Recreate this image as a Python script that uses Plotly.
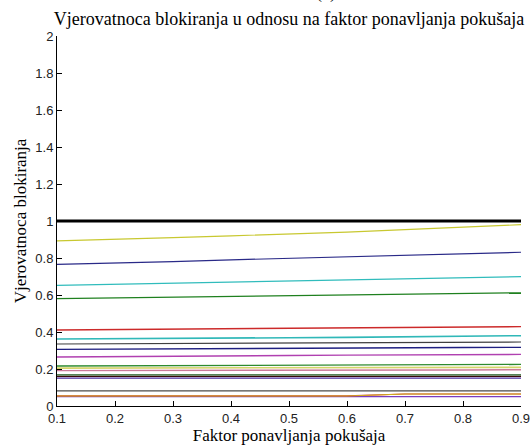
import plotly.graph_objects as go

# Retry factor (x axis)
faktor = [0.1, 0.2, 0.3, 0.4, 0.5, 0.6, 0.7, 0.8, 0.9]

# Blocking probability curves, one per configuration
s_crna = [1.0, 1.0, 1.0, 1.0, 1.0, 1.0, 1.0, 1.0, 1.0]
s_zuta1 = [0.893, 0.900, 0.910, 0.920, 0.928, 0.940, 0.953, 0.966, 0.980]
s_plava1 = [0.766, 0.772, 0.780, 0.790, 0.798, 0.806, 0.814, 0.822, 0.831]
s_cijan1 = [0.652, 0.658, 0.665, 0.670, 0.676, 0.682, 0.687, 0.693, 0.699]
s_zelena1 = [0.580, 0.584, 0.588, 0.592, 0.596, 0.600, 0.605, 0.608, 0.612]
s_crvena1 = [0.411, 0.413, 0.416, 0.420, 0.423, 0.424, 0.425, 0.427, 0.429]
s_cijan2 = [0.362, 0.363, 0.366, 0.368, 0.369, 0.371, 0.373, 0.376, 0.380]
s_siva1 = [0.335, 0.336, 0.337, 0.338, 0.339, 0.341, 0.343, 0.344, 0.346]
s_plava2 = [0.306, 0.308, 0.309, 0.311, 0.312, 0.313, 0.314, 0.316, 0.317]
s_magenta1 = [0.265, 0.266, 0.268, 0.270, 0.273, 0.275, 0.276, 0.277, 0.279]
s_zelena2 = [0.216, 0.217, 0.218, 0.219, 0.220, 0.221, 0.222, 0.224, 0.225]
s_zuta2 = [0.205, 0.205, 0.206, 0.206, 0.207, 0.207, 0.208, 0.208, 0.209]
s_roza = [0.191, 0.191, 0.192, 0.193, 0.193, 0.194, 0.195, 0.195, 0.196]
s_zelena3 = [0.168, 0.168, 0.168, 0.168, 0.168, 0.168, 0.168, 0.168, 0.168]
s_tamna = [0.160, 0.160, 0.160, 0.160, 0.160, 0.160, 0.160, 0.160, 0.160]
s_ljub1 = [0.151, 0.151, 0.151, 0.151, 0.151, 0.151, 0.151, 0.151, 0.151]
s_siva2 = [0.082, 0.082, 0.082, 0.082, 0.082, 0.082, 0.082, 0.082, 0.082]
s_ljub2 = [0.051, 0.051, 0.051, 0.051, 0.051, 0.051, 0.051, 0.051, 0.051]
s_crvena2 = [0.055, 0.055, 0.055, 0.055, 0.055, 0.055, 0.065, 0.065, 0.065]
s_zuta3 = [0.054, 0.054, 0.054, 0.054, 0.054, 0.054, 0.065, 0.065, 0.065]

serije = [
    (s_ljub2, "#7a3cc0", 1.2),
    (s_crvena2, "#d03030", 1.2),
    (s_zuta3, "#d0b020", 1.2),
    (s_siva2, "#4a4a4a", 1.2),
    (s_ljub1, "#4a2a9a", 1.2),
    (s_tamna, "#3a0a0a", 1.4),
    (s_zelena3, "#1f5a1f", 1.4),
    (s_roza, "#cc7a9a", 1.4),
    (s_zuta2, "#d4d46a", 1.6),
    (s_zelena2, "#2e8b2e", 1.4),
    (s_magenta1, "#b040b0", 1.4),
    (s_plava2, "#1f1f80", 1.4),
    (s_siva1, "#404040", 1.2),
    (s_cijan2, "#30b8b8", 1.6),
    (s_crvena1, "#cc2a2a", 1.4),
    (s_zelena1, "#1f801f", 1.2),
    (s_cijan1, "#30bcbc", 1.2),
    (s_plava1, "#2a2a88", 1.2),
    (s_zuta1, "#c8c830", 1.2),
    (s_crna, "#000000", 3.0),
]

fig = go.Figure()
for vals, boja, debljina in serije:
    fig.add_trace(go.Scatter(
        x=faktor, y=vals, mode="lines",
        line=dict(color=boja, width=debljina),
        showlegend=False, hoverinfo="skip",
    ))

serif = "Liberation Serif, Times New Roman, serif"
sans = "Liberation Sans, Arial, sans-serif"

fig.update_layout(
    width=531, height=445,
    margin=dict(l=57, r=10, t=36, b=39, autoexpand=False),
    paper_bgcolor="white", plot_bgcolor="white",
    title=dict(
        text="Vjerovatnoca blokiranja u odnosu na faktor ponavljanja pokušaja",
        font=dict(family=serif, size=18, color="#000000"),
        x=0.5, xref="paper", xanchor="center",
        y=1, yref="paper", yanchor="bottom", pad=dict(b=11),
        automargin=False,
    ),
    annotations=[dict(
        text="(c)", x=0.58, xref="paper", y=1, yref="paper",
        xanchor="center", yanchor="bottom", yshift=31, showarrow=False,
        font=dict(family=serif, size=18, color="#000000"),
    )],
)

fig.update_xaxes(
    range=[0.1, 0.9], tickvals=faktor,
    ticktext=["0.1", "0.2", "0.3", "0.4", "0.5", "0.6", "0.7", "0.8", "0.9"],
    ticks="inside", ticklen=5, tickcolor="#000000",
    showline=True, linecolor="#000000", linewidth=1, mirror=False,
    showgrid=False, zeroline=False, automargin=False,
    tickfont=dict(family=sans, size=13, color="#222222"),
    title=dict(text="Faktor ponavljanja pokušaja", standoff=4,
               font=dict(family=serif, size=17, color="#000000")),
)
fig.update_yaxes(
    range=[0, 2], dtick=0.2, tick0=0,
    ticks="inside", ticklen=5, tickcolor="#000000",
    showline=True, linecolor="#000000", linewidth=1, mirror=False,
    showgrid=False, zeroline=False, automargin=False,
    tickfont=dict(family=sans, size=13, color="#222222"),
    title=dict(text="Vjerovatnoca blokiranja", standoff=4,
               font=dict(family=serif, size=17, color="#000000")),
)

fig.write_html("out.html")
